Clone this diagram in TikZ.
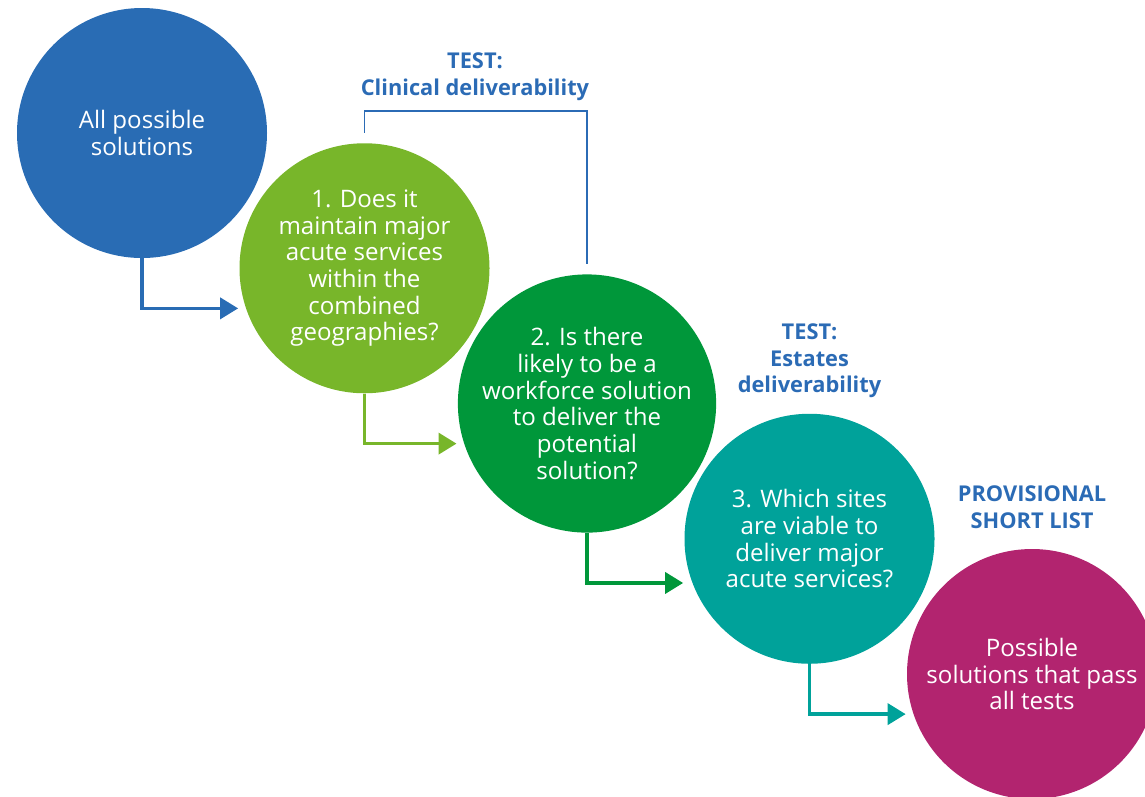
\documentclass[tikz,border=0pt]{standalone}
\usepackage{fontspec}
\setmainfont{Open Sans}
\usetikzlibrary{positioning,calc,arrows.meta}

\definecolor{allblue}{RGB}{41,108,180}
\definecolor{clingreen}{RGB}{120,182,42}
\definecolor{workgreen}{RGB}{0,151,58}
\definecolor{estteal}{RGB}{0,162,154}
\definecolor{listpink}{RGB}{178,36,111}
\definecolor{testblue}{RGB}{43,107,181}

\tikzset{
  stage/.style={circle,minimum size=5cm,inner sep=0pt,align=center,text=white,
    font=\fontsize{13.7}{15.2}\selectfont},
  testlabel/.style={align=center,inner sep=0pt,text=testblue,
    font=\bfseries\fontsize{12.4}{15.2}\selectfont},
  flow/.style={line width=2.1pt,-{Triangle[length=0.36cm,width=0.42cm]}},
}

\begin{document}
\begin{tikzpicture}
\useasboundingbox (0,0) rectangle (22.9,-15.92);
\clip (0,0) rectangle (22.9,-15.92);

% the five stages
\node[stage,fill=allblue] (c1) at (2.84,-2.66) {All possible\\solutions};
\node[stage,fill=clingreen,on grid,below right=2.705cm and 4.45cm of c1] (c2)
  {1. Does it\\maintain major\\acute services\\within the\\combined\\geographies?};
\node[stage,fill=workgreen,on grid,below right=2.705cm and 4.45cm of c2] (c3)
  {2. Is there\\likely to be a\\workforce solution\\to deliver the\\potential\\solution?};
\node[stage,fill=estteal,on grid,below right=2.705cm and 4.45cm of c3] (c4)
  {3. Which sites\\are viable to\\deliver major\\acute services?};
\node[stage,fill=listpink,on grid,below right=2.705cm and 4.45cm of c4] (c5)
  {Possible\\solutions that pass\\all tests};

% test labels
\node[testlabel] (test1) at (9.5,-1.54) {TEST:\\Clinical deliverability};
\node[testlabel,above=0.3cm of c4.north] (test2) {TEST:\\Estates\\deliverability};
\node[testlabel,above=0.4cm of c5.north] (test3) {PROVISIONAL\\SHORT LIST};

% bracket over tests 1 and 2
\coordinate (b1) at ([yshift=0.2cm]c2.north);
\coordinate (b2) at ([yshift=0.2cm]c3.north);
\draw[testblue,line width=1.1pt] (b1) |- ([yshift=-0.2cm]test1.south) -| (b2);

% arrows between stages
\coordinate (t1) at ($(c1.south -| c2.west)+(-0.02,-1)$);
\coordinate (t2) at ($(c2.south -| c3.west)+(-0.02,-1)$);
\coordinate (t3) at ($(c3.south -| c4.west)+(-0.02,-1)$);
\coordinate (t4) at ($(c4.south -| c5.west)+(-0.02,-1)$);
\draw[flow,allblue] (c1.south) |- (t1);
\draw[flow,clingreen] (c2.south) |- (t2);
\draw[flow,workgreen] (c3.south) |- (t3);
\draw[flow,estteal] (c4.south) |- (t4);
\end{tikzpicture}
\end{document}
